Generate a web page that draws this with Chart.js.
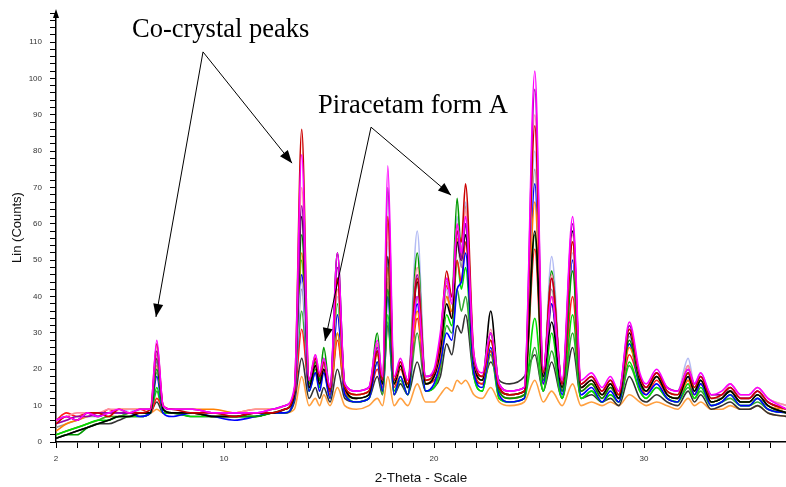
<!DOCTYPE html>
<html>
<head>
<meta charset="utf-8">
<script src="https://cdn.jsdelivr.net/npm/chart.js@4.4.0/dist/chart.umd.min.js"></script>
<style>
  html, body { margin: 0; padding: 0; background: #fff; }
  #wrap { width: 786px; height: 487px; }
</style>
</head>
<body>
<div id="wrap"><canvas id="xrd" width="786" height="487"></canvas></div>
<script>
const twoTheta = [
  2.0, 2.5, 3.0, 3.5, 4.0, 4.5, 5.0, 5.5, 6.0, 6.5,
  6.8, 7.1, 7.5, 8.5, 9.5, 10.5, 11.5, 12.3, 12.9, 13.35,
  13.7, 14.05, 14.35, 14.55, 14.75, 15.05, 15.4, 15.75, 16.3, 16.9,
  17.3, 17.55, 17.8, 18.1, 18.4, 18.75, 19.2, 19.6, 20.0, 20.3,
  20.6, 20.85, 21.1, 21.3, 21.5, 21.9, 22.3, 22.7, 23.1, 23.6,
  24.3, 24.8, 25.2, 25.6, 26.1, 26.6, 27.0, 27.5, 28.0, 28.4,
  28.8, 29.3, 29.8, 30.1, 30.6, 31.1, 31.6, 32.1, 32.4, 32.7,
  33.2, 33.7, 34.1, 34.6, 35.0, 35.4, 35.9, 36.8
]

// counts per scan, same order as twoTheta
const magentaScan = [
  6, 7, 6, 8, 7, 8, 9, 8, 9, 9,
  28, 10, 9, 9, 8, 8, 8, 9, 10, 15,
  79, 17, 24, 19, 23, 15, 52, 16, 14, 15,
  28, 18, 76, 18, 23, 17, 40, 18, 20, 30,
  45, 38, 60, 52, 62, 24, 19, 30, 16, 14,
  15, 102, 20, 40, 17, 62, 17, 19, 15, 18,
  14, 33, 19, 16, 20, 15, 14, 20, 16, 19,
  13, 14, 16, 13, 13, 15, 12, 9
]
const darkRedScan = [
  5, 7, 6, 8, 8, 7, 9, 8, 8, 9,
  27, 10, 9, 8, 8, 7, 8, 8, 9, 14,
  86, 17, 23, 18, 22, 14, 45, 15, 13, 14,
  25, 17, 62, 17, 22, 16, 45, 17, 19, 28,
  47, 40, 58, 55, 71, 24, 18, 28, 15, 13,
  14, 87, 19, 45, 16, 55, 16, 18, 14, 17,
  13, 31, 18, 15, 19, 14, 13, 19, 15, 18,
  12, 13, 15, 12, 12, 14, 11, 9
]
const purpleScan = [
  5, 6, 7, 7, 8, 8, 8, 8, 9, 9,
  25, 10, 9, 9, 8, 8, 8, 9, 10, 14,
  65, 17, 23, 18, 22, 15, 48, 16, 14, 15,
  26, 17, 70, 17, 22, 17, 46, 18, 19, 28,
  45, 40, 58, 50, 60, 23, 18, 30, 16, 14,
  15, 97, 19, 45, 16, 60, 16, 18, 14, 17,
  14, 32, 18, 15, 19, 15, 14, 20, 16, 18,
  13, 13, 15, 12, 12, 14, 11, 9
]
const pinkScan = [
  6, 7, 8, 8, 8, 9, 9, 9, 9, 9,
  24, 10, 9, 9, 8, 8, 9, 9, 10, 14,
  70, 17, 24, 19, 22, 15, 42, 16, 14, 15,
  27, 17, 60, 17, 22, 17, 48, 18, 19, 28,
  44, 39, 60, 52, 64, 23, 18, 31, 16, 14,
  15, 90, 19, 46, 16, 57, 16, 18, 14, 17,
  14, 31, 18, 15, 19, 15, 14, 21, 16, 18,
  13, 13, 16, 13, 13, 15, 12, 10
]
const blackScan = [
  1, 2, 3, 4, 5, 6, 7, 7, 8, 8,
  23, 9, 8, 8, 7, 7, 8, 8, 9, 13,
  62, 15, 21, 16, 20, 14, 52, 15, 12, 13,
  25, 16, 51, 16, 21, 15, 44, 16, 18, 25,
  38, 34, 55, 50, 57, 22, 17, 36, 15, 13,
  14, 58, 18, 33, 15, 58, 15, 17, 13, 16,
  12, 30, 17, 14, 18, 13, 12, 18, 14, 17,
  11, 12, 14, 11, 11, 13, 10, 8
]
const greenScan = [
  1, 2, 2, 4, 5, 6, 7, 7, 8, 8,
  20, 9, 8, 8, 7, 7, 7, 8, 9, 13,
  57, 16, 22, 17, 26, 14, 45, 15, 12, 13,
  30, 16, 42, 16, 21, 15, 52, 16, 18, 27,
  44, 40, 67, 52, 60, 22, 17, 30, 14, 12,
  13, 57, 17, 47, 14, 47, 14, 16, 12, 15,
  12, 28, 16, 14, 18, 13, 12, 19, 14, 17,
  11, 12, 14, 11, 11, 13, 10, 8
]
const lavenderScan = [
  5, 6, 7, 7, 8, 8, 8, 9, 8, 9,
  22, 9, 9, 8, 8, 8, 8, 9, 10, 14,
  44, 17, 24, 18, 23, 15, 40, 16, 14, 15,
  25, 17, 55, 17, 22, 17, 58, 18, 19, 26,
  42, 38, 62, 52, 66, 23, 18, 30, 16, 14,
  15, 80, 19, 51, 16, 52, 16, 18, 14, 17,
  14, 30, 18, 15, 19, 15, 14, 23, 16, 19,
  13, 13, 16, 13, 13, 15, 12, 10
]
const orangeScan = [
  3, 5, 6, 7, 8, 8, 9, 9, 9, 9,
  21, 10, 9, 9, 9, 8, 9, 9, 10, 14,
  52, 16, 22, 17, 22, 14, 30, 15, 13, 14,
  24, 16, 48, 16, 21, 16, 36, 16, 18, 24,
  40, 36, 56, 50, 65, 22, 17, 28, 15, 13,
  14, 66, 18, 40, 15, 55, 15, 17, 13, 16,
  13, 26, 17, 14, 18, 13, 12, 17, 14, 17,
  11, 12, 14, 11, 11, 13, 10, 9
]
const blueScan = [
  6, 7, 6, 8, 7, 8, 8, 8, 7, 8,
  18, 8, 7, 8, 7, 6, 7, 8, 8, 12,
  46, 14, 19, 14, 19, 12, 35, 13, 11, 12,
  22, 14, 40, 13, 18, 13, 38, 14, 16, 22,
  30, 28, 42, 44, 52, 19, 15, 26, 13, 11,
  12, 71, 16, 38, 13, 50, 13, 15, 11, 14,
  11, 27, 15, 13, 16, 12, 11, 18, 13, 16,
  10, 11, 13, 10, 10, 12, 9, 8
]
const grayScan = [
  4, 5, 6, 7, 7, 8, 8, 8, 8, 9,
  19, 9, 8, 8, 8, 7, 8, 8, 9, 13,
  42, 16, 22, 17, 21, 14, 35, 15, 13, 14,
  24, 16, 45, 16, 21, 16, 44, 17, 18, 25,
  40, 36, 55, 48, 60, 22, 17, 28, 15, 13,
  14, 75, 18, 42, 15, 50, 15, 17, 13, 16,
  13, 29, 17, 14, 18, 14, 13, 21, 15, 18,
  12, 12, 15, 12, 12, 14, 11, 9
]
const redScan = [
  6, 8, 7, 8, 7, 9, 8, 8, 9, 8,
  12, 9, 8, 8, 7, 7, 8, 8, 9, 12,
  31, 15, 21, 16, 20, 13, 28, 14, 12, 13,
  20, 15, 44, 15, 20, 15, 34, 16, 17, 22,
  43, 34, 50, 44, 55, 20, 16, 25, 14, 12,
  13, 53, 16, 38, 14, 40, 14, 16, 12, 15,
  12, 24, 16, 13, 17, 13, 12, 17, 13, 16,
  11, 12, 14, 11, 11, 13, 10, 8
]
const limeScan = [
  2, 3, 4, 5, 6, 6, 7, 7, 7, 8,
  15, 8, 8, 7, 7, 7, 7, 8, 8, 12,
  50, 14, 20, 15, 23, 13, 38, 14, 11, 12,
  27, 14, 35, 14, 18, 13, 40, 14, 15, 22,
  35, 32, 50, 42, 48, 18, 14, 25, 12, 11,
  12, 34, 14, 30, 12, 35, 12, 14, 11, 13,
  11, 22, 14, 12, 15, 12, 11, 16, 12, 15,
  10, 11, 13, 10, 10, 12, 9, 8
]
const midGreenScan = [
  2, 3, 4, 5, 6, 7, 7, 8, 8, 8,
  14, 8, 8, 8, 7, 7, 7, 8, 8, 12,
  36, 14, 19, 15, 20, 12, 30, 13, 11, 12,
  22, 13, 33, 13, 17, 13, 30, 14, 15, 20,
  32, 30, 42, 36, 40, 18, 14, 24, 12, 11,
  12, 26, 14, 25, 12, 30, 12, 14, 11, 13,
  11, 21, 14, 12, 15, 12, 11, 15, 12, 14,
  10, 11, 12, 10, 10, 11, 9, 8
]
const charcoalScan = [
  1, 2, 3, 4, 5, 5, 6, 7, 7, 8,
  11, 8, 8, 7, 7, 7, 7, 8, 8, 11,
  23, 12, 15, 12, 15, 11, 20, 12, 11, 12,
  18, 13, 32, 13, 16, 13, 22, 14, 15, 18,
  27, 24, 32, 30, 35, 18, 16, 22, 17, 16,
  18, 24, 14, 22, 12, 26, 12, 13, 11, 12,
  10, 18, 12, 11, 13, 11, 10, 14, 11, 13,
  9, 10, 11, 9, 9, 10, 8, 7
]
const paleOrangeScan = [
  2, 3, 4, 5, 6, 7, 7, 8, 8, 8,
  9, 8, 8, 8, 7, 7, 7, 8, 8, 9,
  18, 10, 12, 10, 13, 10, 15, 10, 9, 10,
  12, 10, 18, 10, 12, 10, 16, 11, 11, 13,
  15, 14, 17, 16, 17, 13, 12, 15, 11, 10,
  11, 17, 11, 14, 10, 16, 10, 11, 10, 11,
  10, 13, 11, 10, 11, 10, 9, 12, 10, 11,
  9, 9, 10, 9, 9, 10, 8, 7
]

const scanNames = ['magenta', 'dark red', 'purple', 'pink', 'black', 'green', 'lavender', 'orange',
  'blue', 'gray', 'red', 'lime', 'mid green', 'charcoal', 'pale orange']
const scanColors = ['#ff00ff', '#cc0000', '#9a00a8', '#ff8fa0', '#000000', '#009900', '#b4bcf4', '#ff8000',
  '#0000ff', '#9a9a9a', '#ff1a1a', '#00dd00', '#33aa33', '#333333', '#ffa040']
const scans = [magentaScan, darkRedScan, purpleScan, pinkScan, blackScan, greenScan, lavenderScan, orangeScan,
  blueScan, grayScan, redScan, limeScan, midGreenScan, charcoalScan, paleOrangeScan]

// callouts, anchored in data units
const callouts = [
  { text: 'Co-crystal peaks', x: 5.62, y: 111.4, apex: [9.0, 107.3], tips: [[6.76, 34.4], [13.24, 76.7]] },
  { text: 'Piracetam form A', x: 14.48, y: 90.5, apex: [17.0, 86.6], tips: [[14.81, 27.8], [20.81, 67.9]] }
]

const xLabelTicks = [2, 10, 20, 30]

function arrowHead(ctx, x0, y0, x1, y1) {
  const ang = Math.atan2(y1 - y0, x1 - x0)
  const len = 13, half = 5
  ctx.beginPath()
  ctx.moveTo(x1, y1)
  ctx.lineTo(x1 - len * Math.cos(ang) + half * Math.sin(ang), y1 - len * Math.sin(ang) - half * Math.cos(ang))
  ctx.lineTo(x1 - len * Math.cos(ang) - half * Math.sin(ang), y1 - len * Math.sin(ang) + half * Math.cos(ang))
  ctx.closePath()
  ctx.fill()
}

const calloutPlugin = {
  id: 'callouts',
  afterDraw(chart) {
    const { ctx, scales: { x, y }, chartArea } = chart
    ctx.save()
    // arrow on top of the y axis
    ctx.fillStyle = '#000'
    ctx.beginPath()
    ctx.moveTo(chartArea.left, chartArea.top - 4)
    ctx.lineTo(chartArea.left - 3, chartArea.top + 5)
    ctx.lineTo(chartArea.left + 3, chartArea.top + 5)
    ctx.closePath()
    ctx.fill()

    ctx.font = '26.5px "Liberation Serif", "Times New Roman", serif'
    ctx.textBaseline = 'alphabetic'
    ctx.textAlign = 'left'
    ctx.strokeStyle = '#000'
    ctx.lineWidth = 1
    callouts.forEach(c => {
      ctx.fillText(c.text, x.getPixelForValue(c.x), y.getPixelForValue(c.y))
      const ax = x.getPixelForValue(c.apex[0]), ay = y.getPixelForValue(c.apex[1])
      c.tips.forEach(t => {
        const tx = x.getPixelForValue(t[0]), ty = y.getPixelForValue(t[1])
        ctx.beginPath()
        ctx.moveTo(ax, ay)
        ctx.lineTo(tx, ty)
        ctx.stroke()
        arrowHead(ctx, ax, ay, tx, ty)
      })
    })
    ctx.restore()
  }
}

new Chart(document.getElementById('xrd').getContext('2d'), {
  type: 'line',
  data: {
    datasets: scans.map((s, i) => ({
      label: scanNames[i],
      data: twoTheta.map((t, j) => ({ x: t, y: s[j] })),
      borderColor: scanColors[i],
      borderWidth: 1.6,
      pointRadius: 0,
      fill: false,
      cubicInterpolationMode: 'monotone'
    }))
  },
  options: {
    responsive: false,
    animation: false,
    devicePixelRatio: 1,
    layout: { padding: { top: 13, right: 0, left: 0, bottom: 0 } },
    plugins: {
      legend: { display: false },
      tooltip: { enabled: false }
    },
    scales: {
      x: {
        type: 'linear',
        min: 2,
        max: 36.76,
        afterFit: (scale) => { scale.height = 45 },
        border: { display: true, color: '#000', width: 1.5 },
        grid: { drawOnChartArea: false, drawTicks: true, tickLength: 6, color: '#000' },
        ticks: {
          stepSize: 1,
          autoSkip: false,
          maxRotation: 0,
          includeBounds: false,
          padding: 6,
          color: '#333',
          font: { family: 'Arial, "Liberation Sans", sans-serif', size: 8 },
          callback: (v) => xLabelTicks.includes(v) ? String(v) : ''
        },
        title: {
          display: true,
          text: '2-Theta - Scale',
          color: '#111',
          font: { family: 'Arial, "Liberation Sans", sans-serif', size: 13.5 },
          padding: { top: 0, bottom: 1 }
        }
      },
      y: {
        min: 0,
        max: 118,
        afterFit: (scale) => { scale.width = 56 },
        border: { display: true, color: '#000', width: 1.5 },
        grid: { drawOnChartArea: false, drawTicks: true, tickLength: 6, color: '#000' },
        ticks: {
          stepSize: 2,
          autoSkip: false,
          includeBounds: false,
          padding: 8,
          color: '#333',
          font: { family: 'Arial, "Liberation Sans", sans-serif', size: 8 },
          callback: (v) => v % 10 === 0 ? String(v) : ''
        },
        title: {
          display: true,
          text: 'Lin (Counts)',
          color: '#111',
          font: { family: 'Arial, "Liberation Sans", sans-serif', size: 13 },
          padding: { top: 10, bottom: 0 }
        }
      }
    }
  },
  plugins: [calloutPlugin]
})
</script>
</body>
</html>
